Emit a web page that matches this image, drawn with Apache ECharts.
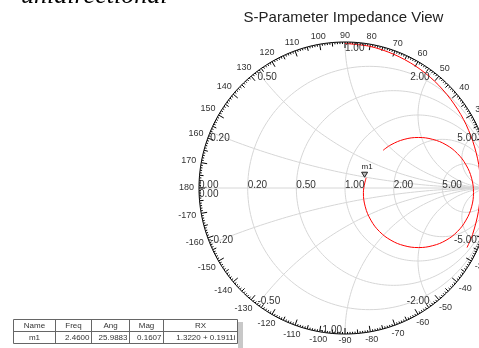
<!DOCTYPE html>
<html><head><meta charset="utf-8">
<script src="https://cdn.jsdelivr.net/npm/echarts@6/dist/echarts.min.js"></script>
<style>html,body{margin:0;padding:0;background:#fff}#c{width:479px;height:348px}</style>
</head><body><div id="c"></div>
<script>
// ---------------- data ----------------
const titleText = 'S-Parameter Impedance View';
const captionText = 'unidirectional';
const resistanceValues = [0.2, 0.5, 1, 2, 5];
const resistanceLabels = ['0.20', '0.50', '1.00', '2.00', '5.00'];
const reactanceValues = [0.2, 0.5, 1, 2, 5, -0.2, -0.5, -1, -2, -5];
const reactanceLabels = ['0.20', '0.50', '1.00', '2.00', '5.00', '-0.20', '-0.50', '-1.00', '-2.00', '-5.00'];
const angleValues = [180, 170, 160, 150, 140, 130, 120, 110, 100, 90, 80, 70, 60, 50, 40, 30, 20, 10,
  -10, -20, -30, -40, -50, -60, -70, -80, -90, -100, -110, -120, -130, -140, -150, -160, -170];
const angleLabels = ['180', '170', '160', '150', '140', '130', '120', '110', '100', '90', '80', '70', '60', '50', '40', '30', '20', '10',
  '-10', '-20', '-30', '-40', '-50', '-60', '-70', '-80', '-90', '-100', '-110', '-120', '-130', '-140', '-150', '-160', '-170'];
// reflection-coefficient trace, outer part (angle in degrees, magnitude)
const edgeAngle = [90, 80, 70, 60, 50, 40, 30, 20, 10, 0, -10, -20, -26];
const edgeMag = [0.99, 0.985, 0.975, 0.965, 0.955, 0.945, 0.938, 0.932, 0.930, 0.928, 0.928, 0.930, 0.930];
// reflection-coefficient trace, loop part (real, imaginary)
const loopRe = [0.145, 0.126, 0.139, 0.177, 0.236, 0.315, 0.405, 0.503, 0.601, 0.692, 0.770, 0.829, 0.867, 0.880, 0.867, 0.829, 0.770, 0.692, 0.601, 0.503, 0.405, 0.315, 0.261];
const loopIm = [0.070, -0.031, -0.129, -0.220, -0.298, -0.358, -0.395, -0.408, -0.395, -0.358, -0.298, -0.220, -0.129, -0.031, 0.067, 0.158, 0.236, 0.296, 0.333, 0.346, 0.333, 0.296, 0.258];
const markerName = 'm1';
const markerRe = 0.1445, markerIm = 0.0704;
const tableHeader = ['Name', 'Freq', 'Ang', 'Mag', 'RX'];
const tableRow = ['m1', '2.4600', '25.9883', '0.1607', '1.3220 + 0.1911i'];

// ---------------- layout ----------------
const CX = 345, CY = 188, R = 146, W = 479, H = 348;
const FONT = '"Liberation Sans", Arial, sans-serif';
const gridColor = '#d6d6d6';

function circlePts(cu, cv, r, a0, a1, n) {
  const pts = [];
  for (let i = 0; i <= n; i++) { const a = a0 + (a1 - a0) * i / n; pts.push([cu + r * Math.cos(a), cv + r * Math.sin(a)]); }
  return pts;
}
function lineSeries(pts, color, z, width) {
  return { type: 'line', data: pts, symbol: 'none', showSymbol: false, silent: true, animation: false,
    lineStyle: { color: color, width: width || 1 }, z: z, clip: true };
}

const series = [];
resistanceValues.forEach(r => series.push(lineSeries(circlePts(r / (r + 1), 0, 1 / (r + 1), 0, 2 * Math.PI, 200), gridColor, 1)));
reactanceValues.forEach(x => {
  const ax = Math.abs(x);
  const px = -2 / (ax * ax + 1), py = (ax * ax - 1) / (ax * (ax * ax + 1));
  let s = Math.atan2(py, px); if (s < 0) s += 2 * Math.PI;
  const pts = circlePts(1, 1 / ax, 1 / ax, s, 1.5 * Math.PI, 150);
  if (x < 0) pts.forEach(p => { p[1] = -p[1]; });
  series.push(lineSeries(pts, gridColor, 1));
});
series.push(lineSeries([[-1, 0], [1, 0]], gridColor, 1));
series.push(lineSeries(circlePts(0, 0, 1, 0, 2 * Math.PI, 360), '#000', 3));

// ticks on the outer ring
const tickData = [];
for (let d = -179; d <= 180; d++) tickData.push([Math.cos(d * Math.PI / 180), Math.sin(d * Math.PI / 180), d]);
series.push({
  type: 'custom', silent: true, animation: false, z: 3, data: tickData,
  renderItem: function (params, api) {
    const d = api.value(2);
    const p0 = api.coord([api.value(0), api.value(1)]);
    const c = api.coord([0, 0]);
    const len = d % 10 === 0 ? 6 : (d % 5 === 0 ? 4 : 2);
    const dx = c[0] - p0[0], dy = c[1] - p0[1], L = Math.hypot(dx, dy);
    return { type: 'line', shape: { x1: p0[0], y1: p0[1], x2: p0[0] + dx / L * len, y2: p0[1] + dy / L * len },
      style: { stroke: '#000', lineWidth: 1 } };
  }
});

// angle labels
const angData = angleValues.map((a, i) => [Math.cos(a * Math.PI / 180), Math.sin(a * Math.PI / 180), i]);
series.push({
  type: 'custom', silent: true, animation: false, z: 5, data: angData,
  renderItem: function (params, api) {
    const i = api.value(2);
    const c = api.coord([0, 0]);
    const p1 = api.coord([1, 0]);
    const rpx = p1[0] - c[0];
    const co = api.value(0), si = api.value(1);
    const txt = angleLabels[i];
    let w = 0; for (const ch of txt) w += (ch === '-' ? 0.333 : 0.556) * 9;
    const dist = rpx + 5 + (w / 2) * Math.abs(co) + 1.5 * Math.abs(si);
    return { type: 'text', x: c[0] + dist * co, y: c[1] - dist * si,
      style: { text: txt, align: 'center', verticalAlign: 'middle', fill: '#333', font: '9px ' + FONT } };
  }
});

// grid value labels
const gl = [];
gl.push({ u: -1, v: 0, t: '0.00', align: 'left', va: 'bottom', dx: 0, dy: 2 });
resistanceValues.forEach((r, i) => gl.push({ u: (r - 1) / (r + 1), v: 0, t: resistanceLabels[i], align: 'left', va: 'bottom', dx: 0, dy: 2 }));
gl.push({ u: -1, v: 0, t: '0.00', align: 'left', va: 'top', dx: 0, dy: 1 });
reactanceValues.forEach((x, i) => {
  const u = (x * x - 1) / (x * x + 1), v = 2 * x / (x * x + 1);
  const left = u < -1e-9 || (Math.abs(u) < 1e-9 && v > 0);
  gl.push({ u: u, v: v, t: reactanceLabels[i], align: left ? 'left' : 'right', va: v > 0 ? 'top' : 'bottom',
    dx: left ? 0 : -3, dy: v > 0 ? 1 : 1.5 });
});
series.push({
  type: 'custom', silent: true, animation: false, z: 5, data: gl.map((g, i) => [g.u, g.v, i]),
  renderItem: function (params, api) {
    const g = gl[api.value(2)];
    const p = api.coord([api.value(0), api.value(1)]);
    return { type: 'text', x: p[0] + g.dx, y: p[1] + g.dy,
      style: { text: g.t, align: g.align, verticalAlign: g.va, fill: '#333', font: '10px ' + FONT } };
  }
});

// trace
const edgePts = edgeAngle.map((a, i) => [edgeMag[i] * Math.cos(a * Math.PI / 180), edgeMag[i] * Math.sin(a * Math.PI / 180)]);
const loopPts = loopRe.map((re, i) => [re, loopIm[i]]);
series.push({ type: 'line', data: edgePts, symbol: 'none', smooth: 0.3, silent: true, animation: false,
  lineStyle: { color: '#ff0000', width: 1 }, z: 4 });
series.push({ type: 'line', data: loopPts, symbol: 'none', smooth: 0.4, silent: true, animation: false,
  lineStyle: { color: '#ff0000', width: 1 }, z: 4 });

// marker
series.push({
  type: 'custom', silent: true, animation: false, z: 6, data: [[markerRe, markerIm]],
  renderItem: function (params, api) {
    const p = api.coord([api.value(0), api.value(1)]);
    const x = p[0] - 1.5, y = p[1] - 0.5;
    return { type: 'group', children: [
      { type: 'polygon', shape: { points: [[x - 3, y - 5], [x + 3, y - 5], [x, y]] }, style: { stroke: '#222', fill: '#bbb', lineWidth: 1 } },
      { type: 'text', x: x + 2.5, y: y - 10, style: { text: markerName, align: 'center', verticalAlign: 'middle', fill: '#222', font: '8px ' + FONT } }
    ] };
  }
});

// table graphic
const colX = [13.5, 55.5, 91.5, 129.5, 163.5, 237.5];
const rowY = [319.5, 331.5, 343.5];
const tbl = [];
tbl.push({ type: 'rect', shape: { x: 238, y: 322, width: 5, height: 26 }, style: { fill: '#c8c8c8' }, z: 1 });
tbl.push({ type: 'rect', shape: { x: colX[0], y: rowY[0], width: colX[5] - colX[0], height: rowY[2] - rowY[0] }, style: { fill: '#fff', stroke: '#666', lineWidth: 1 }, z: 2 });
tbl.push({ type: 'line', shape: { x1: colX[0], y1: rowY[1], x2: colX[5], y2: rowY[1] }, style: { stroke: '#666', lineWidth: 1 }, z: 3 });
for (let i = 1; i < 5; i++) tbl.push({ type: 'line', shape: { x1: colX[i], y1: rowY[0], x2: colX[i], y2: rowY[2] }, style: { stroke: '#666', lineWidth: 1 }, z: 3 });
tableHeader.forEach((t, i) => tbl.push({ type: 'text', x: (colX[i] + colX[i + 1]) / 2, y: (rowY[0] + rowY[1]) / 2 + 0.5, z: 4,
  style: { text: t, align: 'center', verticalAlign: 'middle', fill: '#333', font: '8px ' + FONT } }));
tableRow.forEach((t, i) => {
  const right = i > 0;
  tbl.push({ type: 'text', x: right ? colX[i + 1] - 2 : (colX[i] + colX[i + 1]) / 2, y: (rowY[1] + rowY[2]) / 2 + 0.5, z: 4,
    style: { text: t, align: right ? 'right' : 'center', verticalAlign: 'middle', fill: '#333', font: '8px ' + FONT } });
});
tbl.push({ type: 'text', x: 343.5, y: 17.5, z: 4,
  style: { text: titleText, align: 'center', verticalAlign: 'middle', fill: '#222', font: '15px ' + FONT } });
tbl.push({ type: 'text', x: 21, y: -4, z: 4,
  style: { text: captionText, align: 'left', verticalAlign: 'middle', fill: '#000', font: 'italic 26px "Liberation Serif", "Times New Roman", serif' } });

const chart = echarts.init(document.getElementById('c'), null, { renderer: 'canvas' });
chart.setOption({
  animation: false,
  grid: { left: 0, right: 0, top: 0, bottom: 0, containLabel: false },
  xAxis: { type: 'value', min: -CX / R, max: (W - CX) / R, show: false },
  yAxis: { type: 'value', min: -(H - CY) / R, max: CY / R, show: false },
  series: series,
  graphic: tbl
});
</script></body></html>
